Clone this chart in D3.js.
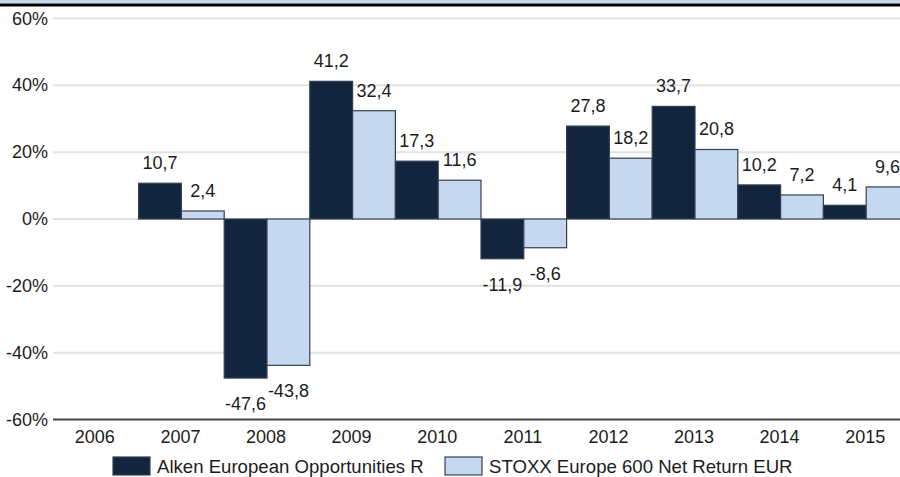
<!DOCTYPE html>
<html>
<head>
<meta charset="utf-8">
<script src="https://cdn.jsdelivr.net/npm/d3@7"></script>
<style>
  body { margin: 0; background: #fff; }
  svg text { font-family: "Liberation Sans", Arial, sans-serif; fill: #1c1c1c; }
</style>
</head>
<body>
<div id="container"></div>
<script>
// yearly returns in %, null = no data
const years = ["2006","2007","2008","2009","2010","2011","2012","2013","2014","2015"]
const alken = [null, 10.7, -47.6, 41.2, 17.3, -11.9, 27.8, 33.7, 10.2, 4.1]
const stoxx = [null, 2.4, -43.8, 32.4, 11.6, -8.6, 18.2, 20.8, 7.2, 9.6]
const seriesNames = ["Alken European Opportunities R", "STOXX Europe 600 Net Return EUR"]
const yTicks = [-60, -40, -20, 0, 20, 40, 60]

const W = 900, H = 477
const colors = ["#13243f", "#c6d8ef"]

const svg = d3.select("#container")
  .append("svg")
    .attr("width", W)
    .attr("height", H)

// top border
svg.append("rect").attr("x", 0).attr("y", 0).attr("width", W).attr("height", 3).attr("fill", "#c8d8ec")
svg.append("rect").attr("x", 0).attr("y", 3.5).attr("width", W).attr("height", 3).attr("fill", "#000")

const x = d3.scaleBand()
  .domain(years)
  .range([53, 909])
  .padding(0)

const y = d3.scaleLinear()
  .domain([-60, 60])
  .range([419.5, 18.5])

// gridlines
svg.append("g")
  .selectAll("line")
  .data(yTicks.filter(d => d !== -60))
  .join("line")
    .attr("x1", 53).attr("x2", W)
    .attr("y1", d => y(d)).attr("y2", d => y(d))
    .attr("stroke", "#e2e2e2")
    .attr("stroke-width", 2)

// y labels
svg.append("g")
  .selectAll("text")
  .data(yTicks)
  .join("text")
    .attr("x", 48)
    .attr("y", d => y(d) + 6)
    .attr("text-anchor", "end")
    .style("font-size", "18px")
    .text(d => d + "%")

// bars
const data = []
years.forEach((yr, i) => {
  [alken[i], stoxx[i]].forEach((v, s) => {
    if (v !== null) data.push({year: yr, s: s, v: v})
  })
})

const barW = x.bandwidth() / 2

svg.append("g")
  .selectAll("rect")
  .data(data)
  .join("rect")
    .attr("x", d => x(d.year) + d.s * barW)
    .attr("y", d => y(Math.max(0, d.v)))
    .attr("width", barW)
    .attr("height", d => Math.abs(y(d.v) - y(0)))
    .attr("fill", d => colors[d.s])
    .attr("stroke", "#33404f")
    .attr("stroke-width", 1.2)

// value labels
svg.append("g")
  .selectAll("text")
  .data(data)
  .join("text")
    .attr("x", d => x(d.year) + d.s * barW + barW / 2)
    .attr("y", d => d.v >= 0 ? y(d.v) - 14 : y(d.v) + 32)
    .attr("text-anchor", "middle")
    .style("font-size", "18px")
    .text(d => String(d.v).replace(".", ","))

// axis baseline
svg.append("line")
  .attr("x1", 53).attr("x2", W)
  .attr("y1", y(-60)).attr("y2", y(-60))
  .attr("stroke", "#444")
  .attr("stroke-width", 2)

// x labels
svg.append("g")
  .selectAll("text")
  .data(years)
  .join("text")
    .attr("x", d => x(d) + x.bandwidth() / 2 - 1)
    .attr("y", 443)
    .attr("text-anchor", "middle")
    .style("font-size", "18px")
    .text(d => d)

// legend
const legendX = [113, 445]
const legend = svg.append("g")
  .selectAll("g")
  .data(seriesNames)
  .join("g")
    .attr("transform", (d, i) => `translate(${legendX[i]},457)`)

legend.append("rect")
  .attr("width", 37).attr("height", 18)
  .attr("fill", (d, i) => colors[i])
  .attr("stroke", "#33404f")
  .attr("stroke-width", 1.2)

legend.append("text")
  .attr("x", 44)
  .attr("y", 16)
  .style("font-size", "18.6px")
  .text(d => d)
</script>
</body>
</html>
